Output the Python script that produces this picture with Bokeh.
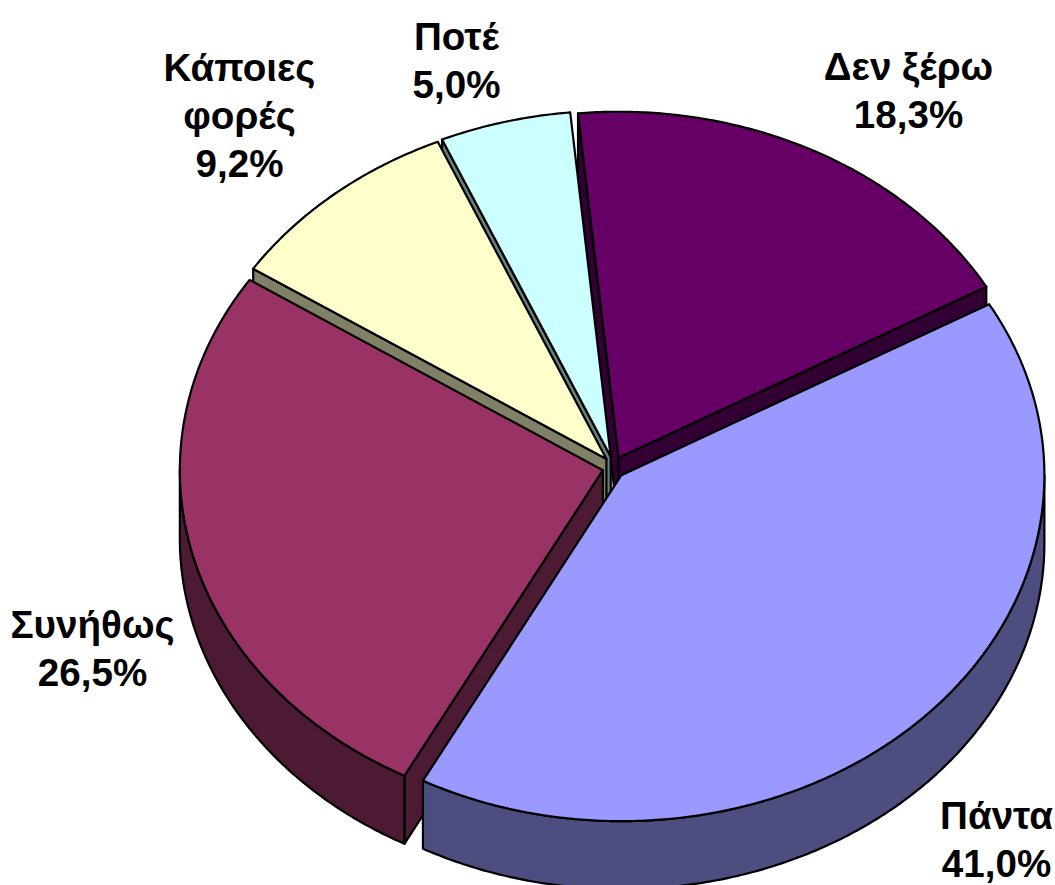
import numpy as np
from bokeh.plotting import figure
from bokeh.models import Range1d
from bokeh.core.properties import value
from bokeh.embed import file_html
from bokeh.resources import INLINE

categories = ["Δεν ξέρω", "Πάντα", "Συνήθως", "Κάποιες\nφορές", "Ποτέ"]
shares = [18.3, 41.0, 26.5, 9.2, 5.0]
top_colors = ["#660066", "#9999FF", "#993366", "#FFFFCC", "#CCFFFF"]
side_colors = ["#330033", "#4D4D80", "#4D1A33", "#808066", "#668080"]
label_x = [908, 996, 92, 239, 456]
label_y = [90, 839, 648, 115, 60]

W, H = 1055, 885
A, B, DEPTH = 423, 346, 68
START = -5.5
CX, CY = 613, 467
EXPLODE = 11
LW = 2.2

p = figure(width=W, height=H, output_backend="svg", toolbar_location=None,
           x_range=Range1d(0, W), y_range=Range1d(H, 0),
           min_border=0, outline_line_color=None)
p.axis.visible = False
p.grid.visible = False

total = sum(shares)
angles = [START]
for s in shares:
    angles.append(angles[-1] + s / total * 360)

def arc(t0, t1, cx, cy):
    t = np.radians(np.linspace(t0, t1, max(int(abs(t1 - t0)) * 2, 2)))
    return cx + A * np.sin(t), cy - B * np.cos(t)

order = [0, 4, 3, 2, 1]
for i in order:
    t0, t1 = angles[i], angles[i + 1]
    mid = np.radians((t0 + t1) / 2)
    cx = CX + EXPLODE * np.sin(mid)
    cy = CY - EXPLODE * np.cos(mid)
    ax, ay = arc(t0, t1, cx, cy)
    side = dict(fill_color=side_colors[i], line_color="black", line_width=LW, line_join="round")
    # cut faces that look towards the viewer
    if np.sin(np.radians(t0)) < 0:
        p.patch([cx, ax[0], ax[0], cx], [cy, ay[0], ay[0] + DEPTH, cy + DEPTH], **side)
    if np.sin(np.radians(t1)) > 0:
        p.patch([cx, ax[-1], ax[-1], cx], [cy, ay[-1], ay[-1] + DEPTH, cy + DEPTH], **side)
    # outer wall
    lo, hi = max(t0, 90), min(t1, 270)
    if hi > lo:
        wx, wy = arc(lo, hi, cx, cy)
        p.patch(np.r_[wx, wx[::-1]], np.r_[wy, wy[::-1] + DEPTH], **side)
    p.patch(np.r_[cx, ax], np.r_[cy, ay], fill_color=top_colors[i],
            line_color="black", line_width=LW, line_join="round")

for name, share, x, y in zip(categories, shares, label_x, label_y):
    text = name + "\n" + f"{share:.1f}%".replace(".", ",")
    p.text([x], [y], text=[text], text_font=value("Liberation Sans"),
           text_font_style="bold", text_font_size="38.6px",
           text_align="center", text_baseline="middle", text_color="black",
           text_line_height=1.11)

open("out.html", "w").write(file_html(p, INLINE))
